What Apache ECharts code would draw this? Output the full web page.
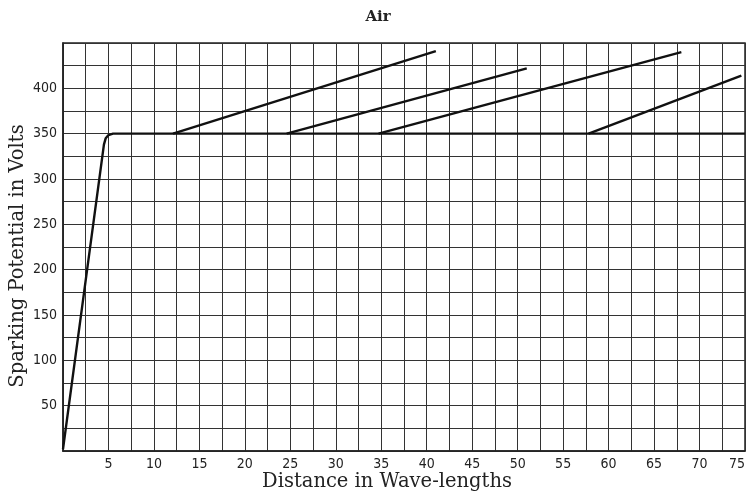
<!DOCTYPE html>
<html><head><meta charset="utf-8">
<script src="https://cdn.jsdelivr.net/npm/echarts@6/dist/echarts.min.js"></script>
<style>html,body{margin:0;padding:0;background:#fff}#c{width:751px;height:496px}</style>
</head><body><div id="c"></div>
<script>
const mainX = [0, 4.5, 4.7, 5.0, 5.5, 75];
const mainY = [2, 338, 345, 348.5, 350, 350];
const branch1 = [[12.1, 350], [41.0, 441]];
const branch2 = [[24.6, 350], [51.0, 422]];
const branch3 = [[34.7, 350], [68.0, 440]];
const branch4 = [[57.8, 350], [74.6, 414]];
const xTicks = [5,10,15,20,25,30,35,40,45,50,55,60,65,70,75];
const yTicks = [50,100,150,200,250,300,350,400];

const chart = echarts.init(document.getElementById('c'));
const lineStyle = {color:'#111', width:2.4};
function ser(data){return {type:'line', data:data, symbol:'none', lineStyle:lineStyle, animation:false};}
const tickFont = {fontFamily:'"Liberation Sans Narrow","DejaVu Sans Condensed",sans-serif', fontSize:14, color:'#222'};
chart.setOption({
  backgroundColor:'#fff',
  animation:false,
  grid:{left:63, right:6, top:43, bottom:45, containLabel:false, outerBoundsMode:'none'},
  xAxis:{type:'value', min:0, max:75, interval:2.5,
    axisLine:{show:true, lineStyle:{color:'#222', width:1.5}},
    axisTick:{show:false},
    axisLabel:Object.assign({margin:6, hideOverlap:false, alignMaxLabel:'right', formatter:function(v){return xTicks.indexOf(v)>=0 ? String(v) : '';}}, tickFont),
    splitLine:{show:true, lineStyle:{color:'#333', width:1}}},
  yAxis:{type:'value', min:0, max:450, interval:25,
    axisLine:{show:true, lineStyle:{color:'#222', width:1.5}},
    axisTick:{show:false},
    axisLabel:Object.assign({margin:6, formatter:function(v){return yTicks.indexOf(v)>=0 ? String(v) : '';}}, tickFont),
    splitLine:{show:true, lineStyle:{color:'#333', width:1}}},
  series:[
    ser(mainX.map((x,i)=>[x, mainY[i]])),
    ser(branch1), ser(branch2), ser(branch3), ser(branch4)
  ],
  graphic:[
    {type:'rect', shape:{x:63, y:43, width:682, height:408}, style:{fill:'none', stroke:'#222', lineWidth:1.5}, silent:true},
    {type:'text', style:{text:'Air', x:378, y:17, textAlign:'center', textVerticalAlign:'middle', font:'bold 15px "DejaVu Serif", serif', fill:'#222'}},
    {type:'text', style:{text:'Distance in Wave-lengths', x:387, y:482, textAlign:'center', textVerticalAlign:'middle', font:'19.5px "DejaVu Serif", serif', fill:'#222'}},
    {type:'text', x:18, y:256, rotation:Math.PI/2, style:{text:'Sparking Potential in Volts', x:0, y:0, textAlign:'center', textVerticalAlign:'middle', font:'19.5px "DejaVu Serif", serif', fill:'#222'}}
  ]
});
</script></body></html>
